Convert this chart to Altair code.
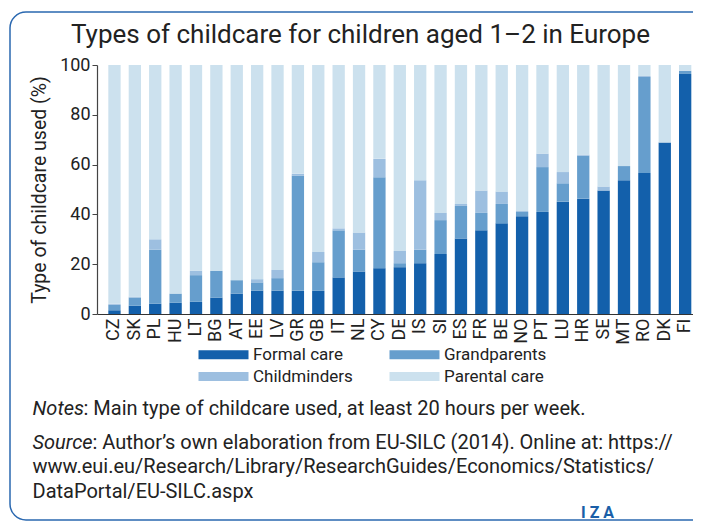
import altair as alt
import pandas as pd

FONT = "Roboto, Liberation Sans, sans-serif"

countries = ["CZ", "SK", "PL", "HU", "LT", "BG", "AT", "EE", "LV", "GR",
             "GB", "IT", "NL", "CY", "DE", "IS", "SI", "ES", "FR", "BE",
             "NO", "PT", "LU", "HR", "SE", "MT", "RO", "DK", "FI"]
formal = [1.5, 3.3, 4.1, 4.5, 4.9, 6.6, 8.2, 9.4, 9.4, 9.4,
          9.3, 14.7, 17.1, 18.4, 18.8, 20.4, 24.1, 30.3, 33.6, 36.4,
          39.3, 41.0, 45.1, 46.3, 49.6, 53.7, 56.6, 68.9, 96.4]
grandparents = [2.2, 3.3, 21.7, 3.7, 10.7, 10.7, 5.4, 3.3, 5.0, 46.1,
                11.5, 18.9, 8.7, 36.5, 1.6, 5.4, 13.6, 13.1, 7.0, 7.8,
                1.7, 18.0, 7.4, 17.3, 0.0, 5.7, 38.6, 0.0, 1.3]
childminders = [0.4, 0.4, 4.2, 0.0, 1.8, 0.0, 0.0, 1.3, 3.3, 0.8,
                4.1, 0.8, 6.9, 7.4, 4.9, 27.9, 2.9, 0.8, 9.0, 5.0,
                0.4, 5.4, 4.5, 0.4, 1.6, 0.0, 0.4, 0.0, 0.0]
parental = [95.9, 93.0, 70.0, 91.8, 82.6, 82.7, 86.4, 86.0, 82.3, 43.7,
            75.1, 65.6, 67.3, 37.7, 74.7, 46.3, 59.4, 55.8, 50.4, 50.8,
            58.6, 35.6, 43.0, 36.0, 48.8, 40.6, 4.4, 31.1, 2.3]

types = ["Formal care", "Grandparents", "Childminders", "Parental care"]
colors = {"Formal care": "#1360ab", "Grandparents": "#669ecd",
          "Childminders": "#9dbfe0", "Parental care": "#cce1ee"}
# legend is laid out column by column
legend_order = ["Formal care", "Childminders", "Grandparents", "Parental care"]

rows = []
for i, c in enumerate(countries):
    for k, (t, vals) in enumerate(zip(types, [formal, grandparents, childminders, parental])):
        rows.append({"country": c, "type": t, "value": vals[i], "order": k})
df = pd.DataFrame(rows)

bars = alt.Chart(df).mark_bar().encode(
    x=alt.X("country:N", sort=countries,
            scale=alt.Scale(paddingInner=0.396, paddingOuter=0.319, align=0.87),
            axis=alt.Axis(title=None, labelAngle=-90, ticks=False, labelFontSize=18,
                          labelFont=FONT, labelColor="#222", domainColor="#333",
                          domainWidth=1.2, labelPadding=4, labelAlign="right",
                          labelBaseline="middle")),
    y=alt.Y("value:Q", stack="zero", scale=alt.Scale(domain=[0, 100]),
            axis=alt.Axis(values=[0, 20, 40, 60, 80, 100], title="Type of childcare used (%)",
                          grid=False, tickSize=5, tickColor="#444", domainColor="#444",
                          domainWidth=1.2, labelFontSize=18, labelFont=FONT, labelColor="#222",
                          labelPadding=2, titleFont=FONT, titleFontSize=19.5,
                          titleFontWeight="normal", titleColor="#222", titlePadding=10)),
    color=alt.Color("type:N", sort=legend_order,
                    scale=alt.Scale(domain=legend_order, range=[colors[t] for t in legend_order]),
                    legend=alt.Legend(title=None, orient="none", legendX=100, legendY=281,
                                      columns=2, symbolType="M-1,-0.643H6.143V0.643H-1Z",
                                      symbolSize=196, symbolStrokeWidth=0,
                                      labelFont=FONT, labelFontSize=17, labelColor="#222",
                                      labelOffset=39, columnPadding=35, rowPadding=4)),
    order=alt.Order("order:Q"),
)

def text_layer(txt, x, y, size=20, style="normal", weight="normal", color="#222", align="left"):
    return alt.Chart(pd.DataFrame({"t": [txt]})).mark_text(
        font=FONT, fontSize=size, fontStyle=style, fontWeight=weight, color=color,
        align=align, baseline="middle"
    ).encode(text="t:N", x=alt.value(x), y=alt.value(y))

title = text_layer("Types of childcare for children aged 1\u20132 in Europe", 263.5, -30, size=26, align="center")
notes_i = text_layer("Notes", -64.5, 344, style="italic")
notes = text_layer(": Main type of childcare used, at least 20 hours per week.", -13.5, 344)
src_i = text_layer("Source", -64.5, 378, style="italic")
src1 = text_layer(": Author\u2019s own elaboration from EU-SILC (2014). Online at: https://", -4.5, 378)
src2 = text_layer("www.eui.eu/Research/Library/ResearchGuides/Economics/Statistics/", -64.5, 402)
src3 = text_layer("DataPortal/EU-SILC.aspx", -64.5, 427)
iza = text_layer("I  Z  A", 484, 448, size=16, weight="bold", color="#1a5fa8")

border = alt.Chart(pd.DataFrame({"a": [0]})).mark_rect(
    fillOpacity=0, stroke="#2a68b0", strokeWidth=1.5, cornerRadius=16
).encode(x=alt.value(-87), x2=alt.value(640), y=alt.value(-53), y2=alt.value(455))

chart = alt.layer(border, bars, title, notes_i, notes, src_i, src1, src2, src3, iza).properties(
    width=596, height=249,
    padding={"left": 89, "top": 57, "right": 0, "bottom": 208},
    autosize=alt.AutoSizeParams(type="none"),
    background="white",
).configure_view(stroke=None)

chart.save("out.html", embed_options={"renderer": "svg", "actions": False})
